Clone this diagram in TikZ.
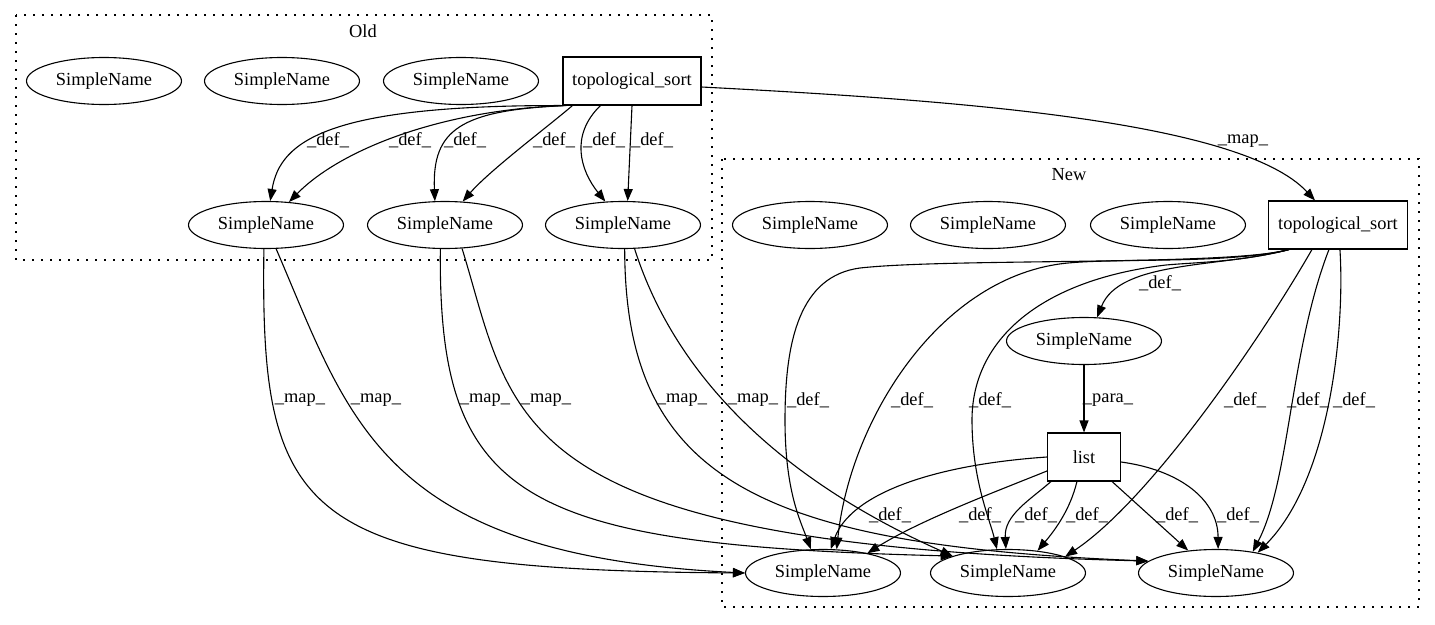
\documentclass[tikz,border=0pt]{standalone}
\usepackage{fontspec}
\setmainfont{Liberation Serif}
\usetikzlibrary{shapes.geometric,arrows.meta}

\begin{document}
\begin{tikzpicture}[x=1pt,y=-1pt,
  snode/.style={ellipse,draw,line width=1.1pt,minimum width=155pt,minimum height=47pt,inner sep=0pt,font=\fontsize{18.4}{22}\selectfont},
  bnode/.style={rectangle,draw,line width=1.1pt,minimum height=48pt,inner sep=0pt,font=\fontsize{18.4}{22}\selectfont},
  lbl/.style={inner sep=0pt,font=\fontsize{18.4}{22}\selectfont},
  arr/.style={-{Triangle[length=12pt,width=9pt]},line width=1.1pt},
  clus/.style={draw,line width=1.3pt,dash pattern=on 1.6pt off 7.4pt}]
\useasboundingbox (0,0) rectangle (1435,624);
% clusters
\draw[clus] (16,15) rectangle (712,260);
\draw[clus] (722,159) rectangle (1419,607);
\node[lbl] (oldlbl) at (363,31) {Old};
\node[lbl] (newlbl) at (1069,175) {New};
% nodes
\foreach \nm/\xx in {o1/104,o2/282,o3/461}
  {\node[snode] (\nm) at (\xx,81) {SimpleName};}
\node[bnode,minimum width=138pt] (otopo) at (632,81) {topological\_sort};
\foreach \nm/\xx in {oa/266,ob/445,oc/623,n1/810,n2/988,n3/1168}
  {\node[snode] (\nm) at (\xx,225) {SimpleName};}
\node[bnode,minimum width=139pt] (ntopo) at (1338,225) {topological\_sort};
\node[snode] (sn) at (1084,341) {SimpleName};
\node[bnode,minimum width=73pt] (list) at (1084,457) {list};
\foreach \nm/\xx in {b1/823,b2/1008,b3/1216}
  {\node[snode] (\nm) at (\xx,573) {SimpleName};}
% old defs
\draw[arr] (otopo.south west) .. controls (330,105) and (280,140) .. (oa.80) node[lbl,at={(328,140)}] {\_def\_};
\draw[arr] ([xshift=2pt]otopo.south west) .. controls (440,110) and (340,150) .. (oa.45) node[lbl,at={(410,140)}] {\_def\_};
\draw[arr] ([xshift=4pt]otopo.south west) .. controls (460,110) and (432,130) .. (ob.113) node[lbl,at={(465,140)}] {\_def\_};
\draw[arr] ([xshift=10pt]otopo.south west) .. controls (550,125) and (490,170) .. (ob.53) node[lbl,at={(554,140)}] {\_def\_};
\draw[arr] ([xshift=38pt]otopo.south west) .. controls (570,135) and (580,170) .. (oc.127) node[lbl,at={(604,140)}] {\_def\_};
\draw[arr] (otopo.south) -- (oc.79) node[lbl,at={(652,140)}] {\_def\_};
% map
\draw[arr] ([yshift=-6pt]otopo.east) .. controls (950,100) and (1240,120) .. ([xshift=-23pt]ntopo.north) node[lbl,at={(1243,141)}] {\_map\_};
\draw[arr] (oa.-95) .. controls (260,520) and (300,570) .. (b1.west) node[lbl,at={(300,400)}] {\_map\_};
\draw[arr] (oa.-67) .. controls (350,420) and (380,555) .. (b1.west) node[lbl,at={(376,400)}] {\_map\_};
\draw[arr] (ob.-101) .. controls (438,500) and (520,545) .. (b2.163) node[lbl,at={(485,400)}] {\_map\_};
\draw[arr] (ob.-54) .. controls (515,420) and (500,545) .. (b3.170) node[lbl,at={(546,400)}] {\_map\_};
\draw[arr] (oc.-86) .. controls (625,480) and (760,545) .. (b3.170) node[lbl,at={(682,400)}] {\_map\_};
\draw[arr] (oc.-64) .. controls (670,360) and (760,470) .. (b2.163) node[lbl,at={(753,400)}] {\_map\_};
% new defs
\draw[arr] ([xshift=21pt]ntopo.south west) .. controls (1230,266) and (950,258) .. (860,268) .. controls (800,276) and (785,340) .. (785,420) .. controls (785,490) and (800,520) .. (b1.117) node[lbl,at={(808,400)}] {\_def\_};
\draw[arr] ([xshift=21pt]ntopo.south west) .. controls (1230,264) and (1120,258) .. (1068,263) .. controls (940,275) and (850,420) .. (b1.60) node[lbl,at={(912,400)}] {\_def\_};
\draw[arr] ([xshift=21pt]ntopo.south west) .. controls (1240,262) and (1200,262) .. (1166,265) .. controls (1040,280) and (972,340) .. (972,420) .. controls (972,480) and (990,520) .. (b2.115) node[lbl,at={(990,400)}] {\_def\_};
\draw[arr] ([xshift=44pt]ntopo.south west) .. controls (1260,340) and (1150,500) .. (b2.16) node[lbl,at={(1245,400)}] {\_def\_};
\draw[arr] ([xshift=61pt]ntopo.south west) .. controls (1290,350) and (1290,480) .. (b3.30) node[lbl,at={(1308,400)}] {\_def\_};
\draw[arr] ([xshift=72pt]ntopo.south west) .. controls (1345,330) and (1330,480) .. (b3.26) node[lbl,at={(1354,400)}] {\_def\_};
\draw[arr] ([xshift=21pt]ntopo.south west) .. controls (1220,268) and (1120,260) .. (sn.61) node[lbl,at={(1160,283)}] {\_def\_};
\draw[arr] (sn) -- (list) node[lbl,at={(1108,400)}] {\_para\_};
% list defs
\draw[arr] (list.west) .. controls (930,465) and (850,495) .. (b1.72) node[lbl,at={(890,515)}] {\_def\_};
\draw[arr] ([yshift=-14pt]list.west) .. controls (1000,490) and (920,520) .. (b1.24) node[lbl,at={(980,515)}] {\_def\_};
\draw[arr] ([xshift=4pt]list.south west) .. controls (1030,500) and (1004,515) .. (b2.95) node[lbl,at={(1036,515)}] {\_def\_};
\draw[arr] ([xshift=30pt]list.south west) .. controls (1070,510) and (1055,530) .. (b2.37) node[lbl,at={(1087,515)}] {\_def\_};
\draw[arr] ([xshift=-9pt]list.south east) -- (b3.141) node[lbl,at={(1177,515)}] {\_def\_};
\draw[arr] ([yshift=-5pt]list.east) .. controls (1180,470) and (1218,500) .. (b3.85) node[lbl,at={(1238,515)}] {\_def\_};
\end{tikzpicture}
\end{document}
